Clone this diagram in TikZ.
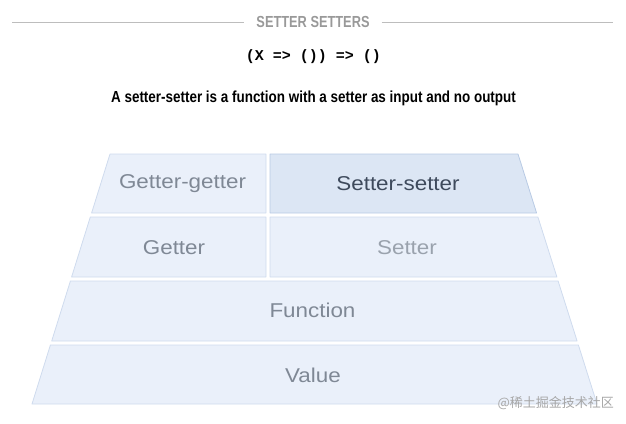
\documentclass[tikz,border=0pt]{standalone}
\usepackage{fontspec}
\setmainfont{Liberation Sans}
\newfontfamily\condfont[FakeStretch=0.84]{Liberation Sans}
\newfontfamily\titlefont[FakeStretch=0.80]{Liberation Sans}
\newfontfamily\labfont[FakeStretch=1.12]{Liberation Sans}
\newfontfamily\codefont{Liberation Mono}
\newfontfamily\cjkfont{Noto Sans CJK SC}
\definecolor{cellfill}{HTML}{EAF0FA}
\definecolor{celldraw}{HTML}{CFDBEE}
\definecolor{hifill}{HTML}{DCE6F4}
\definecolor{hidraw}{HTML}{B8CAE4}
\definecolor{txtgray}{HTML}{7F8895}
\definecolor{txtlight}{HTML}{9AA2AD}
\definecolor{txtdark}{HTML}{3E4A5C}
\definecolor{titlegray}{HTML}{999999}
\definecolor{rulegray}{HTML}{BDBDBD}
\tikzset{
  cell/.style={fill=cellfill, draw=celldraw, line width=0.8pt, line join=round},
  hicell/.style={fill=hifill, draw=hidraw, line width=0.8pt, line join=round},
  lab/.style={font=\labfont\fontsize{20}{24}\selectfont, text=txtgray, inner sep=0pt},
}
\begin{document}
\begin{tikzpicture}[x=1pt,y=-1pt]
\useasboundingbox (0,0) rectangle (626,423);
% header
\node[font=\titlefont\bfseries\fontsize{16}{18}\selectfont, text=titlegray, inner sep=0pt] (title) at (313,22) {SETTER SETTERS};
\coordinate (lA) at (12,22);
\coordinate (lB) at (613,22);
\draw[rulegray, line width=0.8pt] (lA) -- ([xshift=-12pt]title.west |- lA);
\draw[rulegray, line width=0.8pt] ([xshift=12pt]title.east |- lB) -- (lB);
\node[font=\codefont\bfseries\fontsize{15}{17}\selectfont, inner sep=0pt] (sig) at (313.5,57) {(X => ()) => ()};
\node[font=\condfont\bfseries\fontsize{16}{18}\selectfont, inner sep=0pt] (desc) at (313.5,98) {A setter-setter is a function with a setter as input and no output};
% pyramid rows
\draw[cell] (110,154) -- (266,154) -- (266,213) -- (91.6,213) -- cycle;
\draw[hicell] (270,154) -- (518,154) -- (536.6,213) -- (270,213) -- cycle;
\draw[cell] (90.3,217) -- (266,217) -- (266,277) -- (71.6,277) -- cycle;
\draw[cell] (270,217) -- (537.9,217) -- (556.9,277) -- (270,277) -- cycle;
\draw[cell] (70.4,281) -- (558.1,281) -- (577.1,341) -- (51.7,341) -- cycle;
\draw[cell] (50.4,345) -- (578.4,345) -- (597,404) -- (32,404) -- cycle;
% labels
\node[lab] (gg) at (182.5,184) {Getter-getter};
\node[lab, text=txtdark] (ss) at (398,184) {Setter-setter};
\node[lab] (g) at (174,248) {Getter};
\node[lab, text=txtlight] (s) at (407,248) {Setter};
\node[lab] (f) at (312.5,310.5) {Function};
\node[lab] (v) at (313,375) {Value};
% watermark
\node[font=\cjkfont\fontsize{13}{15}\selectfont, text=black!35, anchor=east, inner sep=0pt] (wm) at (614,403) {@稀土掘金技术社区};
\end{tikzpicture}
\end{document}
